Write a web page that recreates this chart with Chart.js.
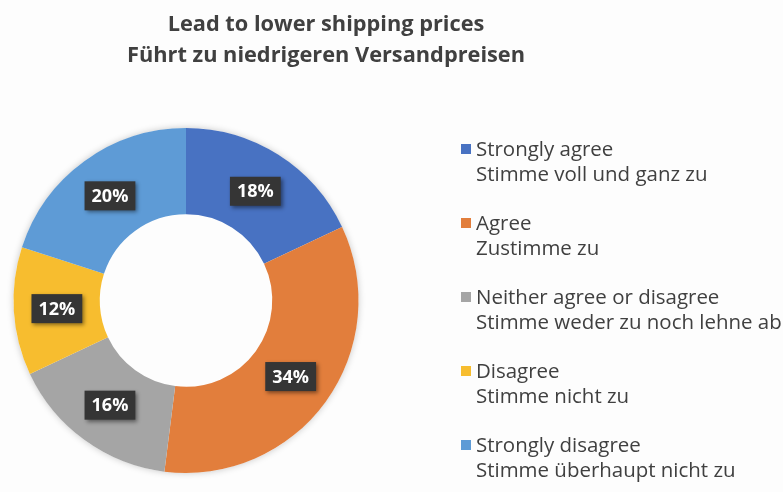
<!DOCTYPE html>
<html>
<head>
<meta charset="utf-8">
<script src="https://cdn.jsdelivr.net/npm/chart.js@4"></script>
<style>
  html, body { margin: 0; padding: 0; background: #fdfdfd; }
  #wrap { width: 783px; height: 492px; }
</style>
</head>
<body>
<div id="wrap"><canvas id="myChart" width="783" height="492"></canvas></div>
<script>
// DATA

var titleLines = ['Lead to lower shipping prices', 'Führt zu niedrigeren Versandpreisen'];
var labelsEn = ['Strongly agree', 'Agree', 'Neither agree or disagree', 'Disagree', 'Strongly disagree'];
var labelsDe = ['Stimme voll und ganz zu', 'Zustimme zu', 'Stimme weder zu noch lehne ab', 'Stimme nicht zu', 'Stimme überhaupt nicht zu'];
var percents = [18, 34, 16, 12, 20];

var sliceColors = ['#4872c2', '#e27e3c', '#a5a5a5', '#f7bd2f', '#5e9bd6'];
var textColor = '#404040';

// fit a font size so text reaches a given width
function fitFont(ctx, text, weight, family, targetWidth) {
    ctx.font = weight + ' 20px ' + family;
    var w = ctx.measureText(text).width;
    return 20 * targetWidth / w;
}

// title + legend drawn on the canvas
var decorPlugin = {
    id: 'decor',
    beforeDatasetsDraw: function (chart) {
        var ctx = chart.ctx;
        var arc = chart.getDatasetMeta(0).data[0];
        // soft shadow round the ring
        ctx.save();
        ctx.shadowColor = 'rgba(0,0,0,0.22)';
        ctx.shadowBlur = 7;
        ctx.fillStyle = '#fdfdfd';
        ctx.beginPath();
        ctx.arc(arc.x, arc.y, arc.outerRadius, 0, Math.PI * 2);
        ctx.fill();
        ctx.restore();
    },
    afterDraw: function (chart) {
        var ctx = chart.ctx;
        ctx.save();

        // title - a bit condensed, like Calibri
        ctx.font = 'bold 22px "Open Sans"';
        var sx = 398 / ctx.measureText(titleLines[1]).width;
        ctx.fillStyle = textColor;
        ctx.textAlign = 'center';
        ctx.textBaseline = 'alphabetic';
        ctx.save();
        ctx.translate(326, 0);
        ctx.scale(sx, 1);
        ctx.fillText(titleLines[0], 0, 31);
        ctx.fillText(titleLines[1], 0, 62);
        ctx.restore();

        // legend
        var lSize = fitFont(ctx, labelsDe[2], 'normal', '"Open Sans"', 306);
        ctx.font = lSize.toFixed(2) + 'px "Open Sans"';
        ctx.textAlign = 'left';
        for (var i = 0; i < labelsEn.length; i++) {
            var y = 156 + i * 74;
            ctx.fillStyle = sliceColors[i];
            ctx.fillRect(461, y - 12, 10, 10);
            ctx.fillStyle = textColor;
            ctx.fillText(labelsEn[i], 476, y);
            ctx.fillText(labelsDe[i], 476, y + 25);
        }
        ctx.restore();
    }
};

// dark boxes with the percentages
var labelPlugin = {
    id: 'sliceLabels',
    afterDatasetsDraw: function (chart) {
        var ctx = chart.ctx;
        var meta = chart.getDatasetMeta(0);
        ctx.save();
        ctx.font = 'bold 18px "Open Sans"';
        ctx.textAlign = 'center';
        ctx.textBaseline = 'middle';
        meta.data.forEach(function (arc, i) {
            var p = arc.tooltipPosition();
            var txt = percents[i] + '%';
            var w = ctx.measureText(txt).width + 14;
            var h = 29;
            ctx.save();
            ctx.shadowColor = 'rgba(0,0,0,0.45)';
            ctx.shadowBlur = 4;
            ctx.shadowOffsetX = 2;
            ctx.shadowOffsetY = 2;
            ctx.fillStyle = '#353535';
            ctx.fillRect(p.x - w / 2, p.y - h / 2, w, h);
            ctx.restore();
            ctx.fillStyle = '#ffffff';
            ctx.fillText(txt, p.x, p.y + 1);
        });
        ctx.restore();
    }
};

var config = {
    type: 'doughnut',
    data: {
        labels: labelsEn,
        datasets: [{
            data: percents,
            backgroundColor: sliceColors,
            borderWidth: 0
        }]
    },
    options: {
        responsive: false,
        animation: false,
        cutout: '50%',
        layout: {
            padding: { left: 13, top: 128, bottom: 19, right: 424 }
        },
        plugins: {
            legend: { display: false },
            tooltip: { enabled: false }
        }
    },
    plugins: [decorPlugin, labelPlugin]
};

var myChart = new Chart(document.getElementById('myChart'), config);
</script>
</body>
</html>
